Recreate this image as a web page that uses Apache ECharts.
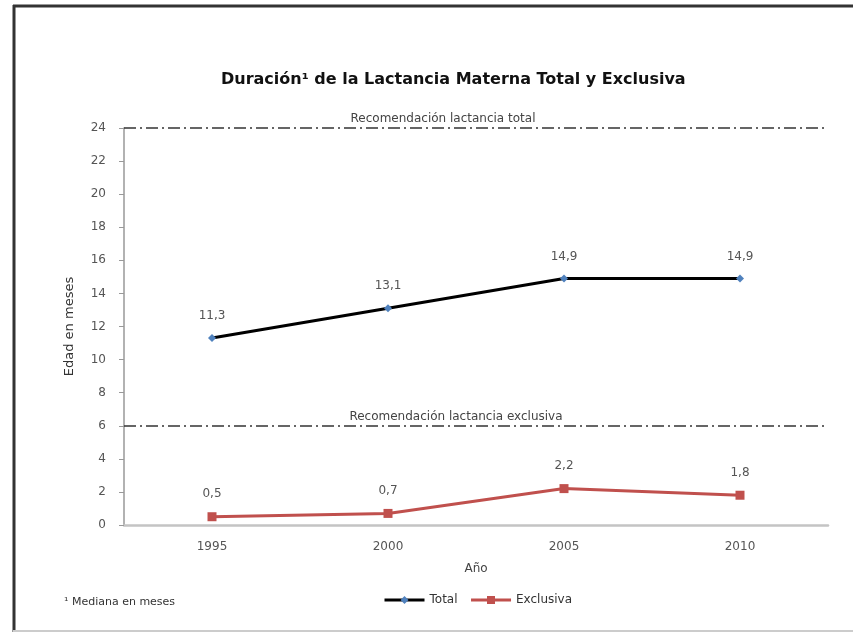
<!DOCTYPE html>
<html>
<head>
<meta charset="utf-8">
<script src="https://cdn.jsdelivr.net/npm/echarts@6/dist/echarts.min.js"></script>
<style>html,body{margin:0;padding:0;background:#fff}#c{width:853px;height:632px}</style>
</head>
<body>
<div id="c"></div>
<script>
var categories = ['1995', '2000', '2005', '2010'];
var totalValues = [11.3, 13.1, 14.9, 14.9];
var exclusiveValues = [0.5, 0.7, 2.2, 1.8];
var recommendationValues = [24, 6];
var recommendationLabels = ['Recomendación lactancia total', 'Recomendación lactancia exclusiva'];
var F = 'DejaVu Sans, Verdana, sans-serif';
var fmt = function (p) { return String(p.value).replace('.', ','); };
var chart = echarts.init(document.getElementById('c'));
chart.setOption({
  backgroundColor: '#fff',
  animation: false,
  textStyle: { fontFamily: F },
  title: {
    text: 'Duración¹ de la Lactancia Materna Total y Exclusiva',
    left: 216, top: 67,
    textStyle: { fontSize: 16, fontWeight: 'bold', color: '#111', fontFamily: F }
  },
  graphic: [
    { type: 'line', shape: { x1: 13, y1: 6, x2: 853, y2: 6 }, style: { stroke: '#333', lineWidth: 3 } },
    { type: 'line', shape: { x1: 14, y1: 5, x2: 14, y2: 632 }, style: { stroke: '#333', lineWidth: 3 } },
    { type: 'line', shape: { x1: 13, y1: 631, x2: 853, y2: 631 }, style: { stroke: '#ccc', lineWidth: 2 } },
    { type: 'text', left: 64, top: 597, style: { text: '¹ Mediana en meses', fontSize: 11, fill: '#333', fontFamily: F } }
  ],
  legend: {
    top: 589, left: 378,
    itemWidth: 40, itemHeight: 10, itemGap: 12,
    lineStyle: { width: 3 },
    textStyle: { fontSize: 12, color: '#333', fontFamily: F },
    data: ['Total', 'Exclusiva']
  },
  grid: { left: 124, right: 25, top: 128, bottom: 107 },
  xAxis: {
    type: 'category', data: categories,
    name: 'Año', nameLocation: 'middle', nameGap: 38,
    nameTextStyle: { fontSize: 12, color: '#444', fontFamily: F },
    axisLine: { lineStyle: { color: '#c4c4c4', width: 2.5 } },
    axisTick: { show: false },
    axisLabel: { fontSize: 12, color: '#555', margin: 16, fontFamily: F }
  },
  yAxis: {
    type: 'value', min: 0, max: 24, interval: 2,
    name: 'Edad en meses', nameLocation: 'middle', nameGap: 48,
    nameTextStyle: { fontSize: 13, color: '#333', fontFamily: F },
    axisLine: { show: true, lineStyle: { color: '#999', width: 1.5 } },
    axisTick: { show: true, length: 5, lineStyle: { color: '#999' } },
    axisLabel: { fontSize: 12, color: '#555', margin: 18, fontFamily: F },
    splitLine: { show: false }
  },
  series: [
    {
      name: 'Total', type: 'line', data: totalValues,
      symbol: 'diamond', symbolSize: 8,
      lineStyle: { color: '#000', width: 3 },
      itemStyle: { color: '#4f81bd' },
      label: { show: true, position: 'top', distance: 12, fontSize: 12, color: '#555', formatter: fmt, fontFamily: F },
      markLine: {
        silent: true, symbol: 'none',
        lineStyle: { color: '#333', type: [12, 4, 2, 4], width: 1.5 },
        label: { position: 'insideMiddleTop', fontSize: 12, color: '#444', distance: 3, formatter: '{b}', fontFamily: F },
        data: [
          { yAxis: recommendationValues[0], name: recommendationLabels[0], label: { offset: [-33, 0] } },
          { yAxis: recommendationValues[1], name: recommendationLabels[1], label: { offset: [-20, 0] } }
        ]
      },
      z: 3
    },
    {
      name: 'Exclusiva', type: 'line', data: exclusiveValues,
      symbol: 'rect', symbolSize: 9,
      lineStyle: { color: '#c0504d', width: 3 },
      itemStyle: { color: '#c0504d' },
      label: { show: true, position: 'top', distance: 12, fontSize: 12, color: '#555', formatter: fmt, fontFamily: F },
      z: 3
    }
  ]
});
</script>
</body>
</html>
